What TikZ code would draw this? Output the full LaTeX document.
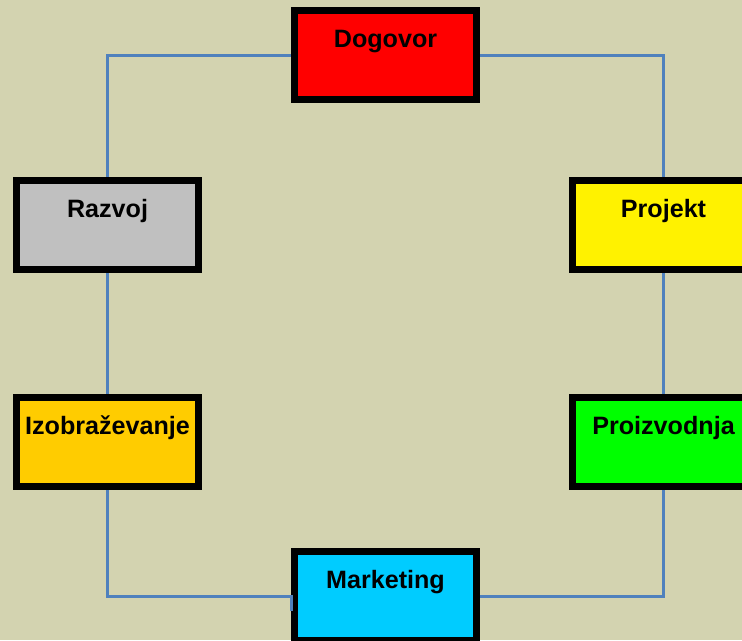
\documentclass[tikz,border=0pt]{standalone}
\usepackage{fontspec}
\setmainfont{Liberation Sans}
\usepackage{tikz}

\definecolor{bgtan}{RGB}{211,211,176}
\definecolor{linkblue}{RGB}{79,129,189}
\definecolor{boxgray}{RGB}{192,192,192}
\definecolor{boxorange}{RGB}{255,204,0}
\definecolor{boxcyan}{RGB}{0,204,255}

\tikzset{
    stage/.style={draw=black, line width=0.14cm, rectangle, inner sep=0pt,
        minimum width=3.64cm, minimum height=1.78cm,
        text height=0.73cm, text depth=1.05cm,
        font=\fontsize{14.3}{17}\selectfont\bfseries},
    link/.style={linkblue, line width=0.06cm}
}

\begin{document}
\begin{tikzpicture}[x=0.02cm, y=-0.02cm]
    % --- Background ---
    \fill[bgtan] (0,0) rectangle (742,640);
    \useasboundingbox (0,0) rectangle (742,640);

    % --- Stages ---
    \node[stage, fill=red]       (dog) at (385.5,55)  {Dogovor};
    \node[stage, fill=boxgray]   (raz) at (107.5,225) {Razvoj};
    \node[stage, fill=yellow]    (prj) at (663.5,225) {Projekt};
    \node[stage, fill=boxorange] (izo) at (107.5,442) {Izobraževanje};
    \node[stage, fill=green]     (pro) at (663.5,442) {Proizvodnja};
    \node[stage, fill=boxcyan]   (mkt) at (385.5,596) {Marketing};

    % --- Links ---
    \draw[link] (dog.west) -| (raz.north);
    \draw[link] (raz.south) -- (izo.north);
    \draw[link] (izo.south) |- (mkt.west) -- ++(0,15);
    \draw[link] (mkt.east) -| (pro.south);
    \draw[link] (pro.north) -- (prj.south);
    \draw[link] (prj.north) |- (dog.east);
\end{tikzpicture}
\end{document}
